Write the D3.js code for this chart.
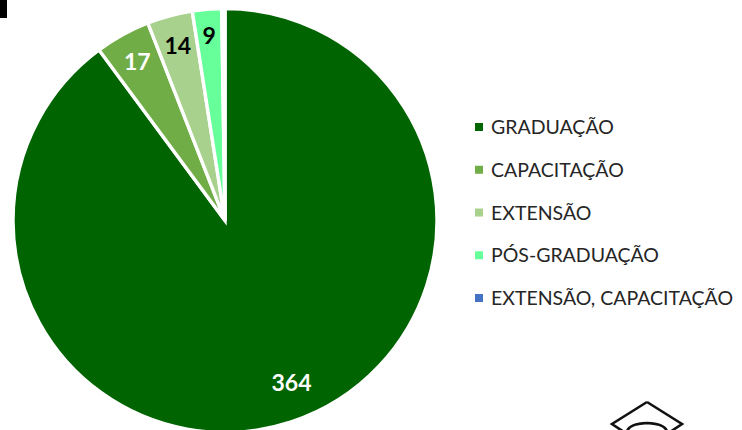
<!DOCTYPE html>
<html><head><meta charset="utf-8">
<script src="https://cdn.jsdelivr.net/npm/d3@7"></script>
<style>html,body{margin:0;padding:0;background:#fff;overflow:hidden}svg{display:block}text{font-family:Lato,"Open Sans",sans-serif}</style>
</head><body><svg id="c" width="742" height="430"></svg>
<script>
const categories=["GRADUAÇÃO","CAPACITAÇÃO","EXTENSÃO","PÓS-GRADUAÇÃO","EXTENSÃO, CAPACITAÇÃO"];
const values=[364,17,14,9,1];
const sliceLabels=["364","17","14","9",""];
const colors=["#006400","#70AD47","#A9D18E","#66FF99","#4472C4"];
const labelColors=["#fff","#fff","#000","#000","#000"];
const labelRadius=[0.826,0.857,0.855,0.875,0.9];
const labelShift=[-4.1,0,0,0,0];

const svg=d3.select("#c");
const cx=225,cy=220.5,R=212;
const pie=d3.pie().sort(null)(values);
const arc=d3.arc().innerRadius(0).outerRadius(R);
const g=svg.append("g").attr("transform",`translate(${cx},${cy})`);
g.selectAll("path").data(pie).join("path").attr("d",arc)
 .attr("fill",(d,i)=>colors[i]).attr("stroke","#fff").attr("stroke-width",3.4).attr("stroke-linejoin","miter");
g.selectAll("text").data(pie).join("text")
 .attr("transform",(d,i)=>{const a=(d.startAngle+d.endAngle)/2+labelShift[i]*Math.PI/180,r=R*labelRadius[i];return `translate(${r*Math.sin(a)},${-r*Math.cos(a)})`})
 .attr("text-anchor","middle").attr("dy","0.36em")
 .attr("font-size",23).attr("font-weight",700)
 .attr("fill",(d,i)=>labelColors[i]).text((d,i)=>sliceLabels[i]);

const ly=d3.scalePoint().domain(categories).range([127,298]);
const lg=svg.append("g");
const row=lg.selectAll("g").data(categories).join("g").attr("transform",d=>`translate(0,${ly(d)})`);
row.append("rect").attr("x",475).attr("y",-4).attr("width",8).attr("height",8).attr("fill",(d,i)=>colors[i]);
row.append("text").attr("x",491).attr("dy","0.36em").attr("font-size",19.5).attr("fill","#262626").text(d=>d);

// fragment of a dark shape at the top-left corner
svg.append("path").attr("d","M0,0H7V18H0Z").attr("fill","#000");
// partly cropped graduation cap icon
const cap=svg.append("g").attr("fill","none").attr("stroke","#111").attr("stroke-width",2.6);
cap.append("path").attr("d","M647,402L682,424L670,432M647,402L612,424L624,432");
cap.append("path").attr("d","M627,432Q628,424 647,423Q666,424 667,432");
</script></body></html>
